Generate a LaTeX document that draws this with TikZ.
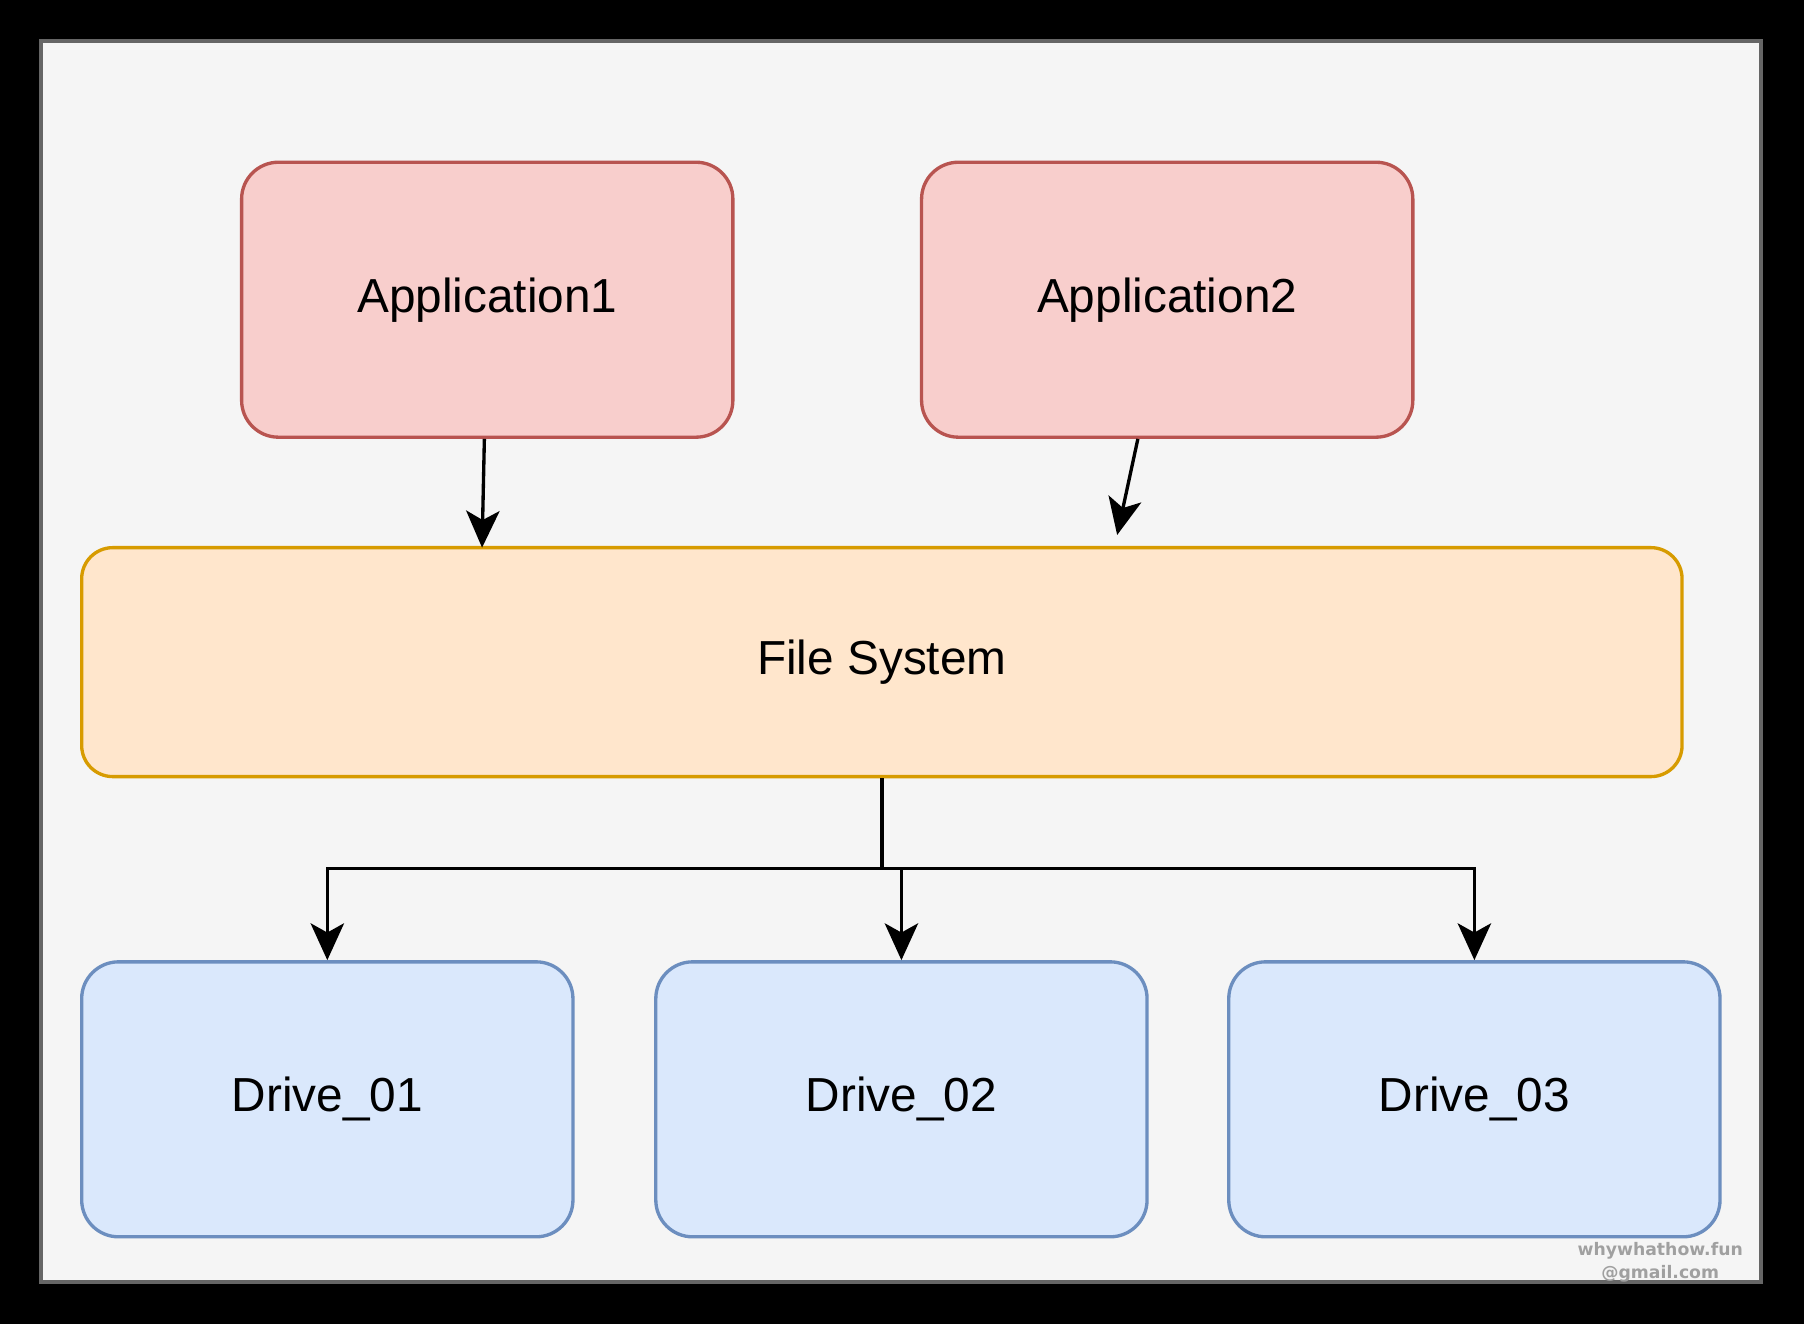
\documentclass[tikz,border=0pt]{standalone}
\usepackage{fontspec}
\setmainfont{Liberation Sans}
\newfontfamily\wmfont{DejaVu Sans}
\usetikzlibrary{arrows.meta}
\definecolor{panelfill}{HTML}{F5F5F5}
\definecolor{panelline}{HTML}{666666}
\definecolor{redfill}{HTML}{F8CECC}
\definecolor{redline}{HTML}{B85450}
\definecolor{orfill}{HTML}{FFE6CC}
\definecolor{orline}{HTML}{D79B00}
\definecolor{bluefill}{HTML}{DAE8FC}
\definecolor{blueline}{HTML}{6C8EBF}
\definecolor{wmgray}{HTML}{A0A0A0}
\tikzset{
  box/.style={rectangle, line width=2.9pt, minimum width=427pt, minimum height=239pt,
    rounded corners=32pt, font=\fontsize{41.5}{50}\selectfont, inner sep=0pt},
  appbox/.style={box, draw=redline, fill=redfill},
  drivebox/.style={box, draw=blueline, fill=bluefill},
  fsbox/.style={box, draw=orline, fill=orfill, minimum width=1391pt, minimum height=199pt, rounded corners=27pt},
  conn/.style={line width=2.9pt, draw=black, -{Stealth[length=32pt, width=29pt, inset=8pt]}},
  wm/.style={font=\wmfont\bfseries\fontsize{15}{17}\selectfont, text=wmgray, inner sep=0pt}
}
\begin{document}
\begin{tikzpicture}[x=1pt,y=-1pt]
\fill[black] (0,0) rectangle (1568,1151);
\useasboundingbox (0,0) rectangle (1568,1151);
\draw[panelline, fill=panelfill, line width=3.5pt] (36,36) rectangle (1531,1114);

\node[appbox] (app1) at (423.5,260.5) {Application1};
\node[appbox] (app2) at (1014.5,260.5) {Application2};
\node[fsbox] (fs) at (766.5,575.5) {File System};
\node[drivebox] (d1) at (284.5,955.5) {Drive\_01};
\node[drivebox] (d2) at (783.5,955.5) {Drive\_02};
\node[drivebox] (d3) at (1281.5,955.5) {Drive\_03};

\coordinate (a1end) at (419,476);
\coordinate (a2end) at (971,465);
\coordinate (split) at (766.5,755);

\draw[conn] ([xshift=-2.5pt]app1.south) -- (a1end);
\draw[conn] ([xshift=-25.5pt]app2.south) -- (a2end);
\draw[conn] (fs.south) -- (split) -| (d1.north);
\draw[conn] (fs.south) -- (split) -| (d2.north);
\draw[conn] (fs.south) -- (split) -| (d3.north);

\node[wm] (wm1) at (1443,1087) {whywhathow.fun};
\node[wm] (wm2) at (1443,1107) {@gmail.com};
\end{tikzpicture}
\end{document}
